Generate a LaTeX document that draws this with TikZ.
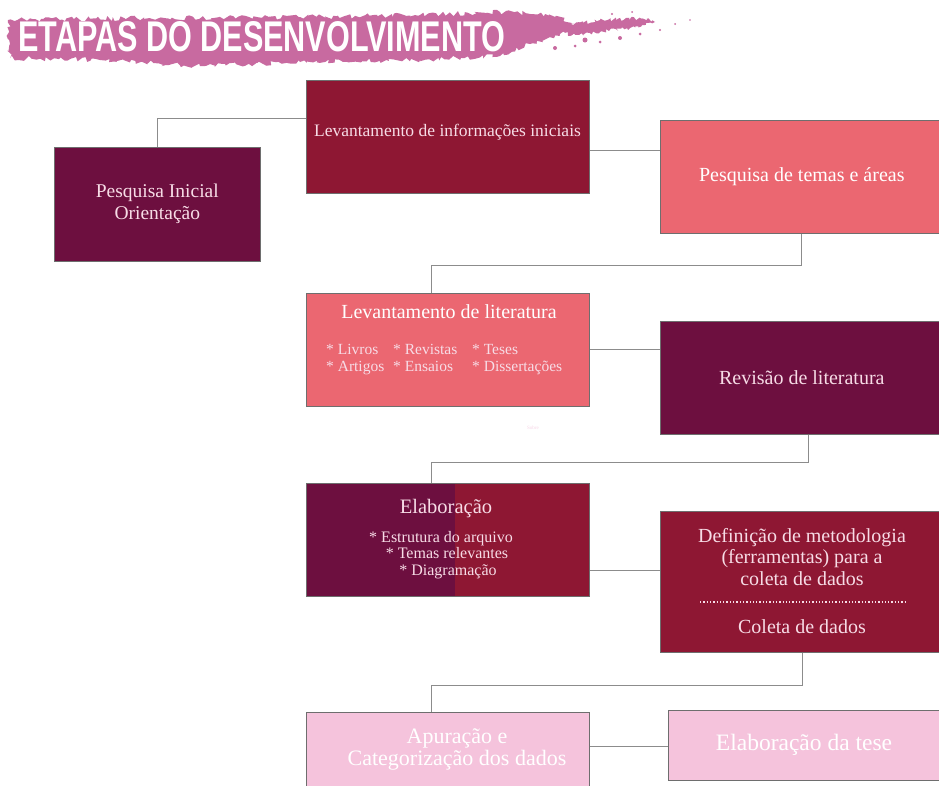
\documentclass[tikz,border=0pt]{standalone}
\usepackage{fontspec}
\setmainfont{Liberation Serif}
\newfontfamily\titlefont{Liberation Sans}
\usetikzlibrary{decorations.pathmorphing,calc}
\definecolor{plum}{HTML}{6D0F3F}
\definecolor{crimson}{HTML}{8E1733}
\definecolor{coral}{HTML}{EB6771}
\definecolor{blush}{HTML}{F5C3DC}
\definecolor{brush}{HTML}{C86AA0}
\definecolor{txtlight}{HTML}{F7DCE6}
\definecolor{conncol}{HTML}{8C8C8C}
\definecolor{edgecol}{HTML}{6E6E6E}
\begin{document}
\begin{tikzpicture}[x=1pt,y=-1pt,
  box/.style={rectangle, draw=edgecol, line width=0.6pt, anchor=north west,
    minimum width=283pt, minimum height=113pt, inner sep=0pt,
    text=txtlight, font=\fontsize{20}{21.5}\selectfont, align=center},
  lbl/.style={inner sep=0pt, text=txtlight, font=\fontsize{20}{21.5}\selectfont, align=center},
  item/.style={inner sep=0pt, anchor=base west, text=txtlight, font=\fontsize{15.5}{16}\selectfont},
  citem/.style={inner sep=0pt, anchor=base, text=txtlight, font=\fontsize{16}{16}\selectfont},
  conn/.style={draw=conncol, line width=0.9pt}]
\clip (0,0) rectangle (939,785);
\fill[white] (0,0) rectangle (939,785);
% title brush
\pgfmathsetseed{7}
\fill[brush, decorate, decoration={random steps, segment length=3pt, amplitude=2.5pt}]
  (8,20) -- (150,18) -- (300,17) -- (420,15) -- (500,12) -- (545,14) -- (575,24)
  -- (560,34) -- (530,44) -- (500,56) -- (420,60) -- (300,62) -- (200,66) -- (100,60) -- (10,58) -- cycle;
\fill[brush, decorate, decoration={random steps, segment length=2pt, amplitude=2pt}]
  (560,26) -- (600,20) -- (640,18) -- (655,22) -- (630,28) -- (600,32) -- (570,36) -- cycle;
\foreach \px/\py/\r in {585/40/2.5, 600/42/1.5, 620/38/2, 640/34/1.5, 660/30/1.2, 675/24/1, 690/20/0.8, 612/14/1.2, 632/12/1, 575/46/1.5, 555/48/2}
  \fill[brush] (\px,\py) circle (\r);
\node (title) [anchor=west, text=white, inner sep=0pt] at (18,37)
  {\resizebox{487pt}{30pt}{\titlefont\bfseries ETAPAS DO DESENVOLVIMENTO}};
% boxes
\node[box, fill=plum, minimum width=206pt, minimum height=114pt, font=\fontsize{19.5}{22}\selectfont] (pi) at (54,147) {Pesquisa Inicial\\Orienta\c{c}\~ao};
\node[box, fill=crimson] (lev) at (306,80) {};
\node[lbl, font=\fontsize{17.5}{21}\selectfont] (levt) at (447.5,132) {Levantamento de informa\c{c}\~oes iniciais};
\node[box, fill=coral, text=white] (pt) at (660,120) {Pesquisa de temas e \'areas};
\node[box, fill=coral] (ll) at (306,293) {};
\node[lbl, text=white] (llt) at (449,312) {Levantamento de literatura};
\node[item] (i1) at (326,354) {* Livros};
\node[item] (i2) at (393,354) {* Revistas};
\node[item] (i3) at (472,354) {* Teses};
\node[item] (i4) at (326,371) {* Artigos};
\node[item] (i5) at (393,371) {* Ensaios};
\node[item] (i6) at (472,371) {* Disserta\c{c}\~oes};
\node[inner sep=0pt, text=blush!70, font=\fontsize{5}{6}\selectfont] (sobre) at (533,428) {Sobre};
\node[box, fill=plum] (rev) at (660,321) {Revis\~ao de literatura};
\node[box, fill=crimson, path picture={\fill[plum] (path picture bounding box.north west) rectangle ([xshift=149pt]path picture bounding box.south west);}] (el) at (306,483) {};
\node[lbl, font=\fontsize{20.5}{21.5}\selectfont] (elt) at (446,509) {Elabora\c{c}\~ao};
\node[citem] (e1) at (441,542) {* Estrutura do arquivo};
\node[citem] (e2) at (447,558) {* Temas relevantes};
\node[citem] (e3) at (448,575) {* Diagrama\c{c}\~ao};
\node[box, fill=crimson, minimum height=141pt] (def) at (660,511) {};
\node[lbl] (deft) at (802,557) {Defini\c{c}\~ao de metodologia\\(ferramentas) para a\\coleta de dados};
\draw[txtlight, dotted, line width=1.3pt] (700,602) -- (905,602);
\node[lbl] (col) at (802,627) {Coleta de dados};
\node[box, fill=blush] (ap) at (306,712) {};
\node[lbl, text=white, font=\fontsize{22}{22}\selectfont] (apt) at (457,749) {Apura\c{c}\~ao e\\Categoriza\c{c}\~ao dos dados};
\node[box, fill=blush, text=white, minimum height=70pt, font=\fontsize{23.5}{24}\selectfont] (tese) at (668,710) {};
\node[lbl, text=white, font=\fontsize{23.5}{24}\selectfont] (teset) at (804,745) {Elabora\c{c}\~ao da tese};
% connectors
\draw[conn] ([yshift=18.5pt]lev.west) -| (pi.north);
\coordinate (c1) at ([yshift=-13.5pt]lev.east);
\draw[conn] (c1) -- (c1 -| pt.west);
\draw[conn] (pt.south) -- ++(0,32) -| ([xshift=-16.5pt]ll.north);
\draw[conn] (ll.east) -- (ll.east -| rev.west);
\draw[conn] ([xshift=6.5pt]rev.south) -- ++(0,28) -| ([xshift=-16.5pt]el.north);
\coordinate (c3) at ([yshift=-30.5pt]el.east);
\draw[conn] (c3) -- (c3 -| def.west);
\draw[conn] ([xshift=1pt]def.south) -- ++(0,33) -| ([xshift=-16.5pt]ap.north);
\coordinate (c4) at ([yshift=-34pt]ap.north east);
\draw[conn] (c4) -- (c4 -| tese.west);
\end{tikzpicture}
\end{document}
